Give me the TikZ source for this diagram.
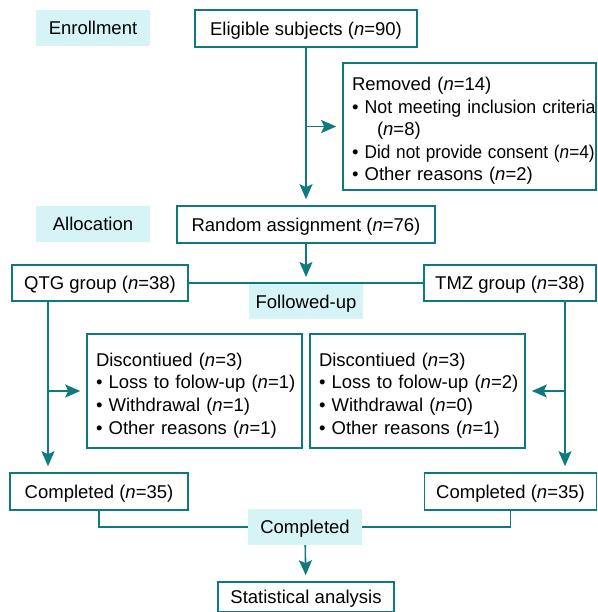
\documentclass[tikz,border=0pt]{standalone}
\usepackage{fontspec}
\setmainfont{Liberation Sans}
\usepackage{xcolor}
\usepackage{graphicx}
\usetikzlibrary{arrows.meta}

\definecolor{flowteal}{HTML}{0E7A7E}
\definecolor{stagecyan}{HTML}{D6F3F5}

\tikzset{
  stage/.style={fill=stagecyan, minimum width=114pt, minimum height=36pt, inner sep=0pt,
    text height=17pt, text depth=3.8pt},
  box/.style={draw=flowteal, line width=1.6pt, fill=white, minimum height=37pt, inner sep=0pt,
    text height=17pt, text depth=3.8pt},
  listbox/.style={draw=flowteal, line width=1.6pt, fill=white, align=left,
    inner xsep=9pt, inner ysep=2pt},
  link/.style={draw=flowteal, line width=1.6pt},
  arr/.style={link, -{Stealth[length=15pt,width=13pt,inset=3pt]}, shorten >=6pt},
}

\newcommand{\nn}[1]{(\textit{n}=#1)}
\newcommand{\li}[1]{\mbox{\textbullet\ #1}}
% squeezed list line
\newcommand{\sqli}[2]{\mbox{\textbullet\ \scalebox{#1}[1]{#2}}}
% first line of a list, a bit lower
\newcommand{\headli}[1]{\raisebox{0pt}[\dimexpr\height+9pt\relax]{#1}}

\begin{document}
\begin{tikzpicture}[x=1pt, y=-1pt, font=\fontsize{18.5}{22.6}\selectfont]
      \useasboundingbox (0,0) rectangle (597,612);

      % stages
      \node[stage] (enroll) at (93,28) {Enrollment};
      \node[stage] (alloc) at (93,224) {Allocation};

      % enrollment
      \node[box, minimum width=222pt] (eligible) at (306,28.5) {Eligible subjects \nn{90}};
      \node[listbox, text width=235pt, minimum height=127pt] (removed) at (469.5,126.5)
        {\headli{Removed \nn{14}}\\
         \sqli{0.96}{Not meeting inclusion criteria}\\
         \hspace*{25pt}\nn{8}\\
         \sqli{0.93}{Did not provide consent \nn{4}}\\
         \li{Other reasons \nn{2}}};

      % allocation
      \node[box, minimum width=258pt] (random) at (306,224.5) {Random assignment \nn{76}};
      \node[box, minimum width=176pt, minimum height=36pt] (qtg) at (100,283) {QTG group \nn{38}};
      \node[box, minimum width=172pt, minimum height=36pt] (tmz) at (510,283) {TMZ group \nn{38}};

      % follow-up
      \node[stage, minimum height=35pt] (follow) at (306,301.5) {Followed-up};
      \node[listbox, text width=197pt, minimum height=114pt] (discL) at (194.5,391)
        {\headli{Discontiued \nn{3}}\\
         \li{Loss to folow-up \nn{1}}\\
         \li{Withdrawal \nn{1}}\\
         \li{Other reasons \nn{1}}};
      \node[listbox, text width=197pt, minimum height=114pt] (discR) at (417.5,391)
        {\headli{Discontiued \nn{3}}\\
         \li{Loss to folow-up \nn{2}}\\
         \li{Withdrawal \nn{0}}\\
         \li{Other reasons \nn{1}}};

      % completion
      \node[box, minimum width=178pt] (compL) at (99,491.5) {Completed \nn{35}};
      \node[box, minimum width=172pt] (compR) at (510.5,491.5) {Completed \nn{35}};
      \node[stage] (done) at (305,527) {Completed};
      \node[box, minimum width=176pt, minimum height=30pt] (stat) at (306,597) {Statistical analysis};

      \coordinate (qtgtap) at ([xshift=-52pt]qtg.south);
      \coordinate (tmztap) at ([xshift=55pt]tmz.south);

      % connectors
      \draw[arr] (eligible) -- (random);
      \draw[arr] (eligible.south |- removed.west) -- (removed.west);
      \draw[link] (qtg) -- (tmz);
      \draw[arr] (random) -- (random.south |- qtg.east);

      \draw[arr] (qtgtap) -- (qtgtap |- compL.north);
      \draw[arr] (qtgtap |- discL.west) -- (discL.west);
      \draw[arr] (tmztap) -- (tmztap |- compR.north);
      \draw[arr] (tmztap |- discR.east) -- (discR.east);

      \draw[link] (compL.south) |- (done.west);
      \draw[link] (compR.south) |- (done.east);
      \draw[arr] (done) -- (stat);

      \end{tikzpicture}
\end{document}
